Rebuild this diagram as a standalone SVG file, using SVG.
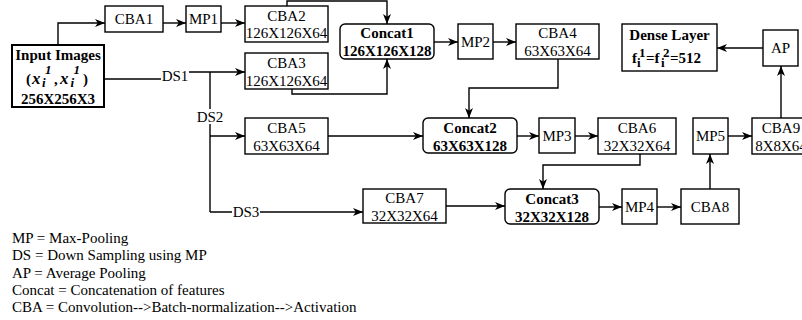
<svg xmlns="http://www.w3.org/2000/svg" width="802" height="320" viewBox="0 0 802 320">
  <defs>
    <marker id="arrow" markerWidth="11" markerHeight="9" refX="10" refY="4.5" orient="auto" markerUnits="userSpaceOnUse">
      <path d="M0,0.5 L10,4.5 L0,8.5 L2.8,4.5 Z" fill="#000"/>
    </marker>
    <style>
      text { font-family: "Liberation Serif", "Times New Roman", serif; font-size: 15px; fill: #000; }
      .c { text-anchor: middle; }
      .b { font-weight: bold; }
      .bi { font-weight: bold; font-style: italic; font-size: 17px; }
      .s { font-size: 13px; }
      .box { fill: #fff; stroke: #000; stroke-width: 1.4; }
      .thick { stroke-width: 2; }
      .edge { fill: none; stroke: #000; stroke-width: 1.4; }
      .arr { marker-end: url(#arrow); }
      .lblbg { fill: #fff; stroke: none; }
    </style>
  </defs>
  <rect width="802" height="320" fill="#fff"/>

  <!-- connectors -->
  <g id="connectors">
    <path class="edge arr" d="M58,45 V23 H105"/>
    <path class="edge arr" d="M163,23 H186"/>
    <path class="edge arr" d="M221,23 H245"/>
    <path class="edge arr" d="M287,6 V1 H387 V24"/>
    <path class="edge arr" d="M292,89 V94 H387 V59"/>
    <path class="edge arr" d="M104,79 H175 V72 H245"/>
    <path class="edge" d="M210,72 V212"/>
    <path class="edge arr" d="M210,136 H245"/>
    <path class="edge arr" d="M210,212 H363"/>
    <path class="edge arr" d="M434,42 H458"/>
    <path class="edge arr" d="M493,42 H516"/>
    <path class="edge arr" d="M558,59 V88 H469 V118"/>
    <path class="edge arr" d="M328,136 H423"/>
    <path class="edge arr" d="M517,136 H539"/>
    <path class="edge arr" d="M575,136 H598"/>
    <path class="edge arr" d="M640,154 V165 H543 V189"/>
    <path class="edge arr" d="M446,206 H505"/>
    <path class="edge arr" d="M599,207 H622"/>
    <path class="edge arr" d="M657,207 H681"/>
    <path class="edge arr" d="M710,189 V154"/>
    <path class="edge arr" d="M728,136 H752"/>
    <path class="edge arr" d="M781,118 V66"/>
    <path class="edge arr" d="M763,48 H717"/>
    <!-- edge labels -->
    <rect class="lblbg" x="161" y="68" width="28" height="15"/>
    <text class="c" x="175" y="81">DS1</text>
    <rect class="lblbg" x="196" y="109" width="28" height="15"/>
    <text class="c" x="210" y="122">DS2</text>
    <rect class="lblbg" x="232" y="205" width="28" height="15"/>
    <text class="c" x="246" y="217">DS3</text>
  </g>

  <g id="input">
    <rect class="box thick" x="12" y="45" width="92" height="62"/>
    <text class="c b" x="58" y="60">Input Images</text>
    <text class="b" x="26" y="84" font-size="17">(</text>
    <text class="bi" x="32" y="84">x</text>
    <text class="bi s" x="42" y="87">i</text>
    <text class="bi s" x="45" y="74">1</text>
    <text class="b" x="54" y="84" font-size="17">,</text>
    <text class="bi" x="60" y="84">x</text>
    <text class="bi s" x="70.5" y="87">i</text>
    <text class="bi s" x="73.5" y="74">1</text>
    <text class="b" x="83" y="84" font-size="17">)</text>
    <text class="c b" x="58" y="104">256X256X3</text>
  </g>

  <g id="cba1">
    <rect class="box" x="105" y="6" width="58" height="26"/>
    <text class="c" x="134" y="24">CBA1</text>
  </g>
  <g id="mp1">
    <rect class="box" x="186" y="6" width="35" height="26"/>
    <text class="c" x="203.5" y="24">MP1</text>
  </g>
  <g id="cba2">
    <rect class="box" x="245" y="6" width="83" height="36"/>
    <text class="c" x="286.5" y="21">CBA2</text>
    <text class="c" x="286.5" y="38">126X126X64</text>
  </g>
  <g id="cba3">
    <rect class="box" x="245" y="53" width="83" height="36"/>
    <text class="c" x="286.5" y="68">CBA3</text>
    <text class="c" x="286.5" y="86">126X126X64</text>
  </g>
  <g id="concat1">
    <rect class="box" x="340" y="24" width="94" height="35" rx="5"/>
    <text class="c b" x="387" y="38">Concat1</text>
    <text class="c b" x="387" y="56">126X126X128</text>
  </g>
  <g id="mp2">
    <rect class="box" x="458" y="24" width="35" height="35"/>
    <text class="c" x="475.5" y="47">MP2</text>
  </g>
  <g id="cba4">
    <rect class="box" x="516" y="24" width="83" height="35"/>
    <text class="c" x="557.5" y="38">CBA4</text>
    <text class="c" x="557.5" y="56">63X63X64</text>
  </g>
  <g id="dense">
    <rect class="box" x="622" y="24" width="95" height="47"/>
    <text class="c b" x="669.5" y="40">Dense Layer</text>
    <text class="b" x="632" y="63" font-size="16">f</text>
    <text class="b s" x="637" y="67">i</text>
    <text class="b s" x="639" y="57">1</text>
    <text class="b" x="646" y="63" font-size="16">=f</text>
    <text class="b s" x="661" y="67">i</text>
    <text class="b s" x="663" y="57">2</text>
    <text class="b" x="670" y="63" font-size="16">=512</text>
  </g>
  <g id="ap">
    <rect class="box" x="763" y="30" width="35" height="36"/>
    <text class="c" x="780.5" y="53">AP</text>
  </g>
  <g id="cba5">
    <rect class="box" x="245" y="118" width="83" height="36"/>
    <text class="c" x="286.5" y="133">CBA5</text>
    <text class="c" x="286.5" y="151">63X63X64</text>
  </g>
  <g id="concat2">
    <rect class="box" x="423" y="118" width="94" height="35" rx="5"/>
    <text class="c b" x="470" y="133">Concat2</text>
    <text class="c b" x="470" y="151">63X63X128</text>
  </g>
  <g id="mp3">
    <rect class="box" x="539" y="118" width="36" height="35"/>
    <text class="c" x="557" y="141">MP3</text>
  </g>
  <g id="cba6">
    <rect class="box" x="598" y="118" width="78" height="36"/>
    <text class="c" x="637" y="133">CBA6</text>
    <text class="c" x="637" y="151">32X32X64</text>
  </g>
  <g id="mp5">
    <rect class="box" x="693" y="118" width="35" height="36"/>
    <text class="c" x="710.5" y="141">MP5</text>
  </g>
  <g id="cba9">
    <rect class="box" x="752" y="118" width="58" height="36"/>
    <text class="c" x="781" y="133">CBA9</text>
    <text class="c" x="781" y="151">8X8X64</text>
  </g>
  <g id="cba7">
    <rect class="box" x="363" y="189" width="83" height="34"/>
    <text class="c" x="404.5" y="203">CBA7</text>
    <text class="c" x="404.5" y="221">32X32X64</text>
  </g>
  <g id="concat3">
    <rect class="box" x="505" y="189" width="94" height="35" rx="5"/>
    <text class="c b" x="552" y="204">Concat3</text>
    <text class="c b" x="552" y="222">32X32X128</text>
  </g>
  <g id="mp4">
    <rect class="box" x="622" y="189" width="35" height="35"/>
    <text class="c" x="639.5" y="212">MP4</text>
  </g>
  <g id="cba8">
    <rect class="box" x="681" y="189" width="58" height="35"/>
    <text class="c" x="710" y="212">CBA8</text>
  </g>

  <g id="legend">
    <text x="12" y="243">MP = Max-Pooling</text>
    <text x="12" y="260">DS = Down Sampling using MP</text>
    <text x="12" y="277.5">AP = Average Pooling</text>
    <text x="12" y="295">Concat = Concatenation of features</text>
    <text x="12" y="312">CBA = Convolution--&gt;Batch-normalization--&gt;Activation</text>
  </g>
</svg>
